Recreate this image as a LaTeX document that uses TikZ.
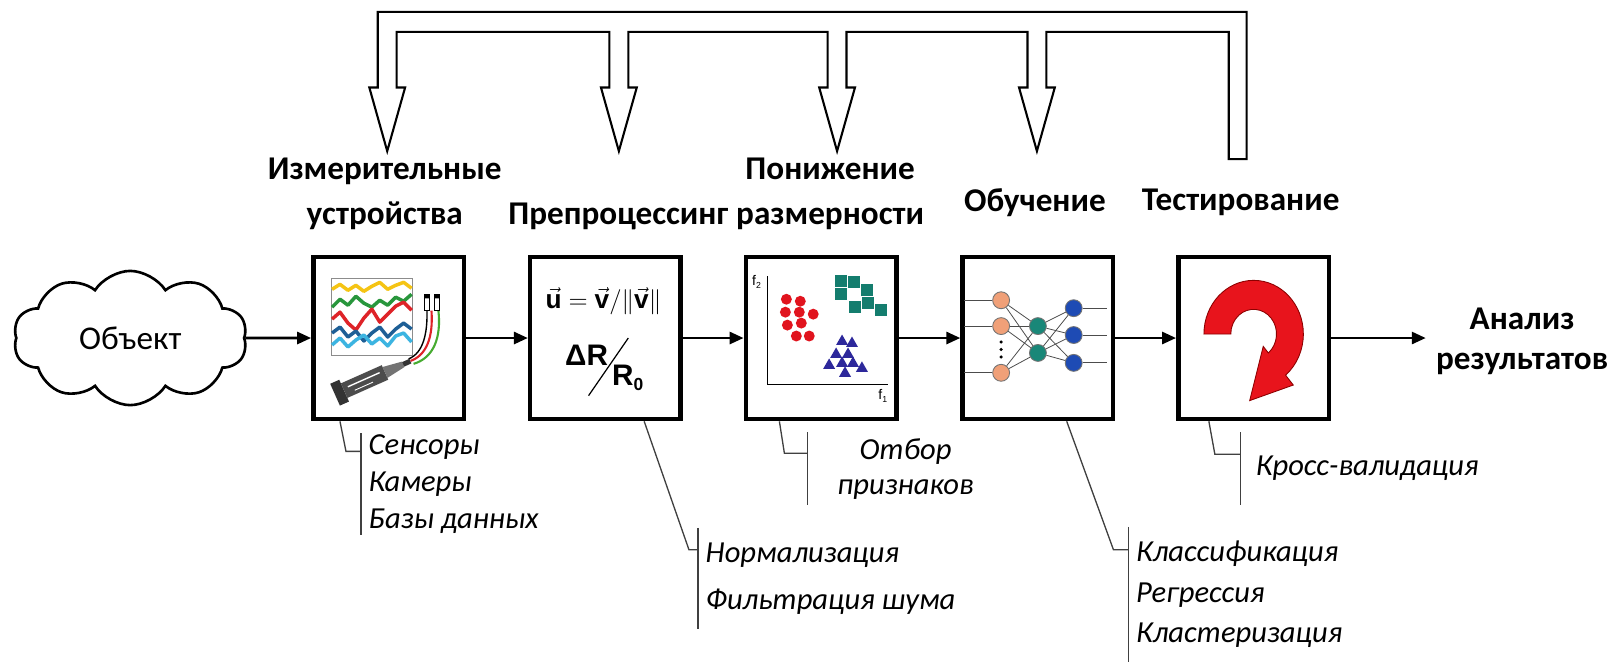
\documentclass[tikz,border=0pt]{standalone}
\usepackage{fontspec}
\setmainfont{Carlito}
\newfontfamily\formfont{Liberation Sans}
\usetikzlibrary{arrows.meta,shapes.symbols}

\definecolor{traceyellow}{RGB}{245,196,20}
\definecolor{tracegreen}{RGB}{40,150,60}
\definecolor{tracered}{RGB}{222,35,40}
\definecolor{traceblue}{RGB}{30,95,150}
\definecolor{tracecyan}{RGB}{60,180,225}
\definecolor{dotred}{RGB}{225,20,30}
\definecolor{sqteal}{RGB}{20,125,110}
\definecolor{trviolet}{RGB}{45,40,155}
\definecolor{peach}{RGB}{240,160,120}
\definecolor{hidteal}{RGB}{25,135,120}
\definecolor{outblue}{RGB}{30,75,180}
\definecolor{loopred}{RGB}{232,20,28}

\tikzset{
    stage/.style={draw, line width=2.6pt, minimum width=3.03cm, minimum height=3.26cm, inner sep=0pt},
    stagetitle/.style={font=\bfseries\fontsize{19}{26}\selectfont, align=center, inner sep=0pt},
    flow/.style={-{Triangle[length=2.8mm, width=2.4mm]}, line width=1.6pt},
    pipe/.style={line width=1.2pt, line join=miter},
    leader/.style={line width=0.75pt, black!75},
    remark/.style={font=\itshape\fontsize{17.5}{21}\selectfont, align=left, anchor=north west,
        inner xsep=0.15cm, inner ysep=0pt},
    trace/.style={line width=2pt, line join=round},
    neuron/.style={circle, draw=black!55, line width=0.5pt, minimum size=0.34cm, inner sep=0pt},
    synapse/.style={line width=0.45pt, black!70}
}

\begin{document}
\begin{tikzpicture}
    \path[fill=white] (0,0) rectangle (32.36,-13.3);

    % processing chain
    \node[cloud, draw, line width=1.5pt, cloud puffs=10, cloud puff arc=115, aspect=1.9,
        minimum width=4.7cm, minimum height=2.7cm, font=\fontsize{19}{22}\selectfont]
        (object) at (2.62,-6.8) {Объект};
    \node[stage] (sensing) at (7.82,-6.8) {};
    \node[stage] (preproc) at (12.18,-6.8) {};
    \node[stage] (reduce) at (16.52,-6.8) {};
    \node[stage] (train) at (20.88,-6.8) {};
    \node[stage] (test) at (25.22,-6.8) {};
    \node[stagetitle, font=\bfseries\fontsize{19}{23}\selectfont, inner xsep=0.2cm]
        (result) at (30.62,-6.86) {Анализ\\результатов};
    \draw[flow] (object) -- (sensing);
    \draw[flow] (sensing) -- (preproc);
    \draw[flow] (preproc) -- (reduce);
    \draw[flow] (reduce) -- (train);
    \draw[flow] (train) -- (test);
    \draw[flow] (test) -- (test -| result.west);

    % stage titles
    \node[stagetitle] (t-sensing) at (7.74,-3.9) {Измерительные\\устройства};
    \node[stagetitle] (t-preproc) at (12.44,-4.36) {Препроцессинг};
    \node[stagetitle] (t-reduce) at (16.7,-3.9) {Понижение\\размерности};
    \node[stagetitle] (t-train) at (20.82,-4.08) {Обучение};
    \node[stagetitle] (t-test) at (24.96,-4.08) {Тестирование};

    % feedback pipe from testing back to every stage
    \draw[pipe] (24.72,-3.2) -- (25.08,-3.2) -- (25.08,-0.24) -- (7.6,-0.24)
        -- (7.6,-1.76) -- (7.43,-1.76) -- (7.79,-3.04) -- (8.15,-1.76) -- (7.98,-1.76)
        -- (7.98,-0.64) -- (12.26,-0.64)
        -- (12.26,-1.76) -- (12.09,-1.76) -- (12.45,-3.04) -- (12.81,-1.76) -- (12.64,-1.76)
        -- (12.64,-0.64) -- (16.65,-0.64)
        -- (16.65,-1.76) -- (16.48,-1.76) -- (16.84,-3.04) -- (17.2,-1.76) -- (17.03,-1.76)
        -- (17.03,-0.64) -- (20.67,-0.64)
        -- (20.67,-1.76) -- (20.5,-1.76) -- (20.86,-3.04) -- (21.22,-1.76) -- (21.05,-1.76)
        -- (21.05,-0.64) -- (24.72,-0.64) -- cycle;

    % remarks under the stages
    \node[remark, minimum height=2.02cm] (sources) at (7.26,-8.72)
        {Сенсоры\\Камеры\\Базы данных};
    \node[remark, minimum height=2.02cm, font=\itshape\fontsize{17.5}{27}\selectfont]
        (prep-notes) at (14.04,-10.62) {Нормализация\\Фильтрация шума};
    \node[remark, align=center, minimum height=1.44cm, inner xsep=0.6cm,
        font=\itshape\fontsize{17.5}{20}\selectfont] (sel-notes) at (16.24,-8.7)
        {Отбор\\признаков};
    \node[remark, minimum height=2.7cm, font=\itshape\fontsize{17.5}{23}\selectfont]
        (learn-notes) at (22.7,-10.6) {Классификация\\Регрессия\\Кластеризация};
    \node[remark, minimum height=1.44cm, inner xsep=0.3cm] (test-notes) at (24.96,-8.7)
        {Кросс-валидация};
    \coordinate (k1) at (6.96,-9.08);
    \coordinate (k2) at (13.86,-11.06);
    \coordinate (k3) at (15.78,-9.12);
    \coordinate (k4) at (22.4,-11.06);
    \coordinate (k5) at (24.44,-9.14);
    \draw[leader] ([xshift=0.58cm]sensing.south west) -- (k1) -- (k1 -| sources.west);
    \draw[leader] ([xshift=2.34cm]preproc.south west) -- (k2) -- (k2 -| prep-notes.west);
    \draw[leader] ([xshift=0.72cm]reduce.south west) -- (k3) -- (k3 -| sel-notes.west);
    \draw[leader] ([xshift=2.14cm]train.south west) -- (k4) -- (k4 -| learn-notes.west);
    \draw[leader] ([xshift=0.66cm]test.south west) -- (k5) -- (k5 -| test-notes.west);
    \foreach \n in {sources, prep-notes, sel-notes, learn-notes, test-notes}
        \draw[leader] (\n.north west) -- (\n.south west);

    % measuring devices: signal plot and probe
    \begin{scope}[shift={(sensing.center)}]
        \draw[black!45, line width=0.5pt] (-1.16,-0.36) rectangle (0.48,1.2);
        \draw[trace, traceyellow] plot coordinates {(-1.14,0.98) (-0.98,1.08) (-0.82,0.96)
            (-0.66,1.06) (-0.5,0.94) (-0.34,1.04) (-0.18,1.12) (-0.02,0.98) (0.14,1.06)
            (0.3,1.12) (0.46,1.0)};
        \draw[trace, tracegreen] plot coordinates {(-1.14,0.62) (-0.98,0.78) (-0.82,0.66)
            (-0.66,0.84) (-0.5,0.7) (-0.34,0.62) (-0.18,0.76) (-0.02,0.66) (0.14,0.82)
            (0.3,0.74) (0.46,0.88)};
        \draw[trace, tracered] plot coordinates {(-1.14,0.38) (-0.98,0.52) (-0.82,0.3)
            (-0.66,0.16) (-0.5,0.4) (-0.34,0.58) (-0.18,0.32) (-0.02,0.48) (0.14,0.64)
            (0.3,0.72) (0.46,0.56)};
        \draw[trace, traceblue] plot coordinates {(-1.14,0.1) (-0.98,0.22) (-0.82,0.02)
            (-0.66,0.14) (-0.5,-0.06) (-0.34,0.1) (-0.18,0.22) (-0.02,0.02) (0.14,0.18)
            (0.3,0.3) (0.46,0.18)};
        \draw[trace, tracecyan] plot coordinates {(-1.14,-0.14) (-0.98,0.0) (-0.82,-0.18)
            (-0.66,-0.04) (-0.5,0.06) (-0.34,-0.12) (-0.18,0.0) (-0.02,-0.16) (0.14,0.04)
            (0.3,0.1) (0.46,-0.08)};
        \begin{scope}[shift={(-1.08,-1.14)}, rotate=24]
            \fill[black!80] (0,-0.24) rectangle (0.2,0.24);
            \fill[black!70] (0.2,-0.16) rectangle (1.1,0.16);
            \draw[white, line width=0.8pt] (0.3,0.04) -- (1.0,0.04);
            \draw[white, line width=0.5pt] (0.4,-0.08) -- (0.8,-0.08);
            \fill[black!55] (1.1,-0.12) -- (1.5,-0.06) -- (1.5,0.06) -- (1.1,0.12) -- cycle;
            \fill[black!80] (1.5,-0.05) rectangle (1.66,0.05);
        \end{scope}
        \draw[black, line width=0.8pt] (0.4,-0.42) .. controls (0.7,-0.3) and (0.78,0.1) .. (0.77,0.55);
        \draw[tracered, line width=1.2pt] (0.44,-0.46) .. controls (0.75,-0.35) and (0.9,0.0) .. (0.86,0.55);
        \draw[tracegreen!80!lime, line width=1.2pt] (0.5,-0.52) .. controls (0.9,-0.4) and (1.06,0.0) .. (1.0,0.55);
        \draw[fill=white, line width=0.5pt] (0.72,0.55) rectangle (0.82,0.88);
        \draw[fill=white, line width=0.5pt] (0.92,0.55) rectangle (1.02,0.88);
        \fill (0.72,0.8) rectangle (0.82,0.88) (0.92,0.8) rectangle (1.02,0.88);
    \end{scope}

    % preprocessing formulas
    \begin{scope}[shift={(preproc.center)}]
        \node[font=\formfont\bfseries\fontsize{15}{18}\selectfont, inner sep=0pt] (unitvec)
            at (-0.04,0.74) {$\vec{\mbox{u}}=\vec{\mbox{v}}\big/\big\|\vec{\mbox{v}}\big\|$};
        \node[font=\formfont\bfseries\fontsize{17}{18}\selectfont, inner sep=0pt] (deltar)
            at (-0.38,-0.34) {ΔR};
        \node[font=\formfont\bfseries\fontsize{17}{18}\selectfont, inner sep=0pt] (rzero)
            at (0.45,-0.8) {R\raisebox{-0.35ex}{\fontsize{10}{10}\selectfont 0}};
        \draw[line width=0.7pt] (-0.34,-1.16) -- (0.46,0.0);
    \end{scope}

    % feature space with three clusters
    \begin{scope}[shift={(reduce.center)}]
        \draw[line width=0.6pt] (-1.08,1.24) -- (-1.08,-0.94) -- (1.34,-0.94);
        \node[font=\formfont\fontsize{8}{9}\selectfont, inner sep=0pt] at (-1.3,1.12)
            {f\raisebox{-0.4ex}{\fontsize{5}{5}\selectfont 2}};
        \node[font=\formfont\fontsize{8}{9}\selectfont, inner sep=0pt] at (1.24,-1.16)
            {f\raisebox{-0.4ex}{\fontsize{5}{5}\selectfont 1}};
        \foreach \x/\y in {-0.70/0.78, -0.42/0.74, -0.72/0.52, -0.44/0.52, -0.16/0.48,
                -0.68/0.26, -0.40/0.30, -0.50/0.04, -0.24/0.04}
            \fill[dotred] (\x,\y) circle (0.11);
        \foreach \x/\y in {0.40/1.14, 0.66/1.12, 0.40/0.88, 0.92/0.96, 0.68/0.62,
                0.94/0.70, 1.20/0.56}
            \fill[sqteal] ({\x-0.12},{\y-0.12}) rectangle ++(0.24,0.24);
        \foreach \x/\y in {0.42/-0.06, 0.62/-0.10, 0.30/-0.32, 0.54/-0.32, 0.16/-0.54,
                0.42/-0.50, 0.64/-0.50, 0.82/-0.60, 0.48/-0.70}
            \fill[trviolet] (\x,{\y+0.13}) -- ({\x-0.12},{\y-0.08}) -- ({\x+0.12},{\y-0.08}) -- cycle;
    \end{scope}

    % neural network
    \begin{scope}[shift={(train.center)}]
        \foreach \y [count=\k] in {0.76,0.24,-0.70}
            \node[neuron, fill=peach] (in\k) at (-0.74,\y) {};
        \foreach \y [count=\k] in {0.24,-0.30}
            \node[neuron, fill=hidteal] (hid\k) at (0,\y) {};
        \foreach \y [count=\k] in {0.60,0.06,-0.50}
            \node[neuron, fill=outblue] (out\k) at (0.72,\y) {};
        \foreach \i in {1,2,3}
            \foreach \h in {1,2}
                \draw[synapse] (in\i) -- (hid\h);
        \foreach \h in {1,2}
            \foreach \o in {1,2,3}
                \draw[synapse] (hid\h) -- (out\o);
        \foreach \i in {1,2,3}
            \draw[synapse] (in\i.west) -- ++(-0.56,0);
        \foreach \o in {1,2,3}
            \draw[synapse] (out\o.east) -- ++(0.5,0);
        \foreach \y in {-0.08,-0.23,-0.38}
            \fill (-0.74,\y) circle (0.035);
    \end{scope}

    % testing loop
    \begin{scope}[shift={(test.center)}, yshift=0.08cm, yscale=1.08]
        \fill[loopred, draw=red!55!black, line width=0.5pt] (180:0.46) -- (180:1)
            arc[start angle=180, end angle=-50, radius=1] -- (-50:1.24) -- (-0.08,-1.24)
            -- (-50:0.3) -- (-50:0.46) arc[start angle=-50, end angle=180, radius=0.46] -- cycle;
    \end{scope}
\end{tikzpicture}
\end{document}
